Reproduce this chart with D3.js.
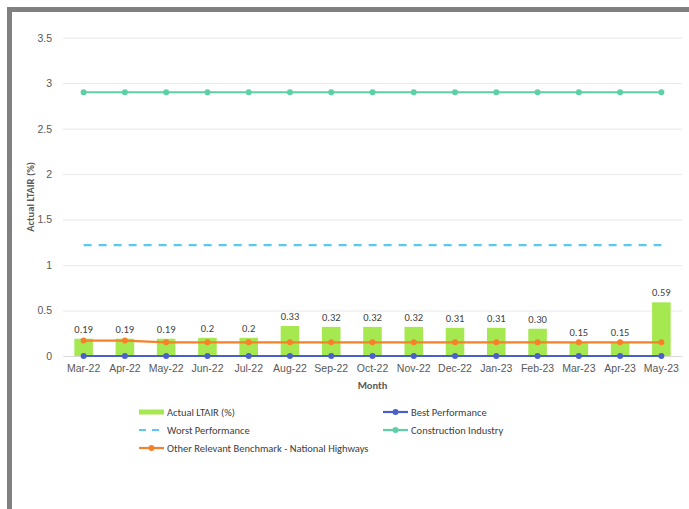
<!DOCTYPE html>
<html>
<head>
<meta charset="utf-8">
<script src="https://cdn.jsdelivr.net/npm/d3@7"></script>
<style>
  body { margin: 0; background: #fff; }
  svg { display: block; font-family: Carlito, "Liberation Sans", Arial, sans-serif; }
</style>
</head>
<body>
<div id="chart"></div>
<script>
// chart data
const months = ['Mar-22', 'Apr-22', 'May-22', 'Jun-22', 'Jul-22', 'Aug-22', 'Sep-22', 'Oct-22',
  'Nov-22', 'Dec-22', 'Jan-23', 'Feb-23', 'Mar-23', 'Apr-23', 'May-23'];
const actual = [0.19, 0.19, 0.19, 0.2, 0.2, 0.33, 0.32, 0.32, 0.32, 0.31, 0.31, 0.30, 0.15, 0.15, 0.59];
const actualLabels = ['0.19', '0.19', '0.19', '0.2', '0.2', '0.33', '0.32', '0.32', '0.32', '0.31',
  '0.31', '0.30', '0.15', '0.15', '0.59'];
const best = [0, 0, 0, 0, 0, 0, 0, 0, 0, 0, 0, 0, 0, 0, 0];
const worst = [1.22, 1.22, 1.22, 1.22, 1.22, 1.22, 1.22, 1.22, 1.22, 1.22, 1.22, 1.22, 1.22, 1.22, 1.22];
const construction = [2.9, 2.9, 2.9, 2.9, 2.9, 2.9, 2.9, 2.9, 2.9, 2.9, 2.9, 2.9, 2.9, 2.9, 2.9];
const nationalHighways = [0.17, 0.17, 0.15, 0.15, 0.15, 0.15, 0.15, 0.15, 0.15, 0.15, 0.15, 0.15, 0.15, 0.15, 0.15];
const yTicks = [0, 0.5, 1, 1.5, 2, 2.5, 3, 3.5];

const width = 689;
const height = 509;
const fontSize = '10.5px';

const svg = d3.select('#chart')
  .append('svg')
  .attr('width', width)
  .attr('height', height);

// grey frame on the left and top
svg.append('rect').attr('x', 7).attr('y', 7).attr('width', 5).attr('height', height - 7).attr('fill', '#808080');
svg.append('rect').attr('x', 7).attr('y', 7).attr('width', width - 7).attr('height', 5).attr('fill', '#808080');

const usableArea = { left: 63, right: 682, top: 37.7, bottom: 356 };

const xScale = d3.scaleBand()
  .domain(months)
  .range([usableArea.left, usableArea.right]);

const yScale = d3.scaleLinear()
  .domain([0, 3.5])
  .range([usableArea.bottom, usableArea.top]);

// gridlines
const gridlines = svg.append('g')
  .attr('transform', `translate(${usableArea.left}, 0)`)
  .call(d3.axisLeft(yScale).tickValues(yTicks).tickFormat('').tickSize(-(usableArea.right - usableArea.left)));
gridlines.select('.domain').remove();
gridlines.selectAll('line').attr('stroke', '#e8e8e8').attr('stroke-width', 1);

// y axis labels
const yAxis = svg.append('g')
  .attr('transform', `translate(${usableArea.left}, 0)`)
  .call(d3.axisLeft(yScale).tickValues(yTicks).tickSize(0).tickPadding(11).tickFormat(d3.format('')));
yAxis.select('.domain').remove();
yAxis.selectAll('text').attr('fill', '#595959').style('font-size', fontSize).style('font-family', null);

// x axis
const xAxis = svg.append('g')
  .attr('transform', `translate(0, ${usableArea.bottom})`)
  .call(d3.axisBottom(xScale).tickSize(0).tickPadding(9));
xAxis.select('.domain').attr('stroke', '#d9d9d9');
xAxis.selectAll('text').attr('fill', '#595959').style('font-size', fontSize).style('font-family', null);

// axis titles
svg.append('text')
  .attr('x', (usableArea.left + usableArea.right) / 2)
  .attr('y', 389)
  .attr('text-anchor', 'middle')
  .attr('fill', '#595959')
  .style('font-size', fontSize)
  .style('font-weight', 'bold')
  .text('Month');

svg.append('text')
  .attr('transform', `translate(34, ${(usableArea.top + usableArea.bottom) / 2}) rotate(-90)`)
  .attr('text-anchor', 'middle')
  .attr('fill', '#595959')
  .style('font-size', fontSize)
  .style('font-weight', 'bold')
  .text('Actual LTAIR (%)');

// bars
const barW = xScale.bandwidth() * 0.45;
const cx = (m) => xScale(m) + xScale.bandwidth() / 2;

svg.append('g')
  .selectAll('rect')
  .data(actual)
  .join('rect')
  .attr('x', (d, i) => cx(months[i]) - barW / 2)
  .attr('y', (d) => yScale(d))
  .attr('width', barW)
  .attr('height', (d) => yScale(0) - yScale(d))
  .attr('fill', '#a5e84f');

svg.append('g')
  .selectAll('text')
  .data(actual)
  .join('text')
  .attr('x', (d, i) => cx(months[i]))
  .attr('y', (d) => yScale(d) - 6)
  .attr('text-anchor', 'middle')
  .attr('fill', '#404040')
  .style('font-size', fontSize)
  .text((d, i) => actualLabels[i]);

// lines
const line = d3.line()
  .x((d, i) => cx(months[i]))
  .y((d) => yScale(d));

function drawSeries(values, color, withDots, dash) {
  const g = svg.append('g');
  g.append('path')
    .datum(values)
    .attr('d', line)
    .attr('fill', 'none')
    .attr('stroke', color)
    .attr('stroke-width', 2.2)
    .attr('stroke-dasharray', dash || null);
  if (withDots) {
    g.selectAll('circle')
      .data(values)
      .join('circle')
      .attr('cx', (d, i) => cx(months[i]))
      .attr('cy', (d) => yScale(d))
      .attr('r', 3)
      .attr('fill', color);
  }
}

drawSeries(worst, '#5bc8f2', false, '8,7');
drawSeries(construction, '#5dd0a6', true);
drawSeries(best, '#4a60c8', true);
drawSeries(nationalHighways, '#f5822a', true);

// legend
const legend = svg.append('g').style('font-size', fontSize).attr('fill', '#404040');
const items = [
  { label: 'Actual LTAIR (%)', type: 'bar', color: '#a5e84f', x: 139, y: 412 },
  { label: 'Best Performance', type: 'dot', color: '#4a60c8', x: 383, y: 412 },
  { label: 'Worst Performance', type: 'dash', color: '#5bc8f2', x: 139, y: 430 },
  { label: 'Construction Industry', type: 'dot', color: '#5dd0a6', x: 383, y: 430 },
  { label: 'Other Relevant Benchmark - National Highways', type: 'dot', color: '#f5822a', x: 139, y: 448 }
];
items.forEach((it) => {
  const g = legend.append('g').attr('transform', `translate(${it.x}, ${it.y})`);
  if (it.type === 'bar') {
    g.append('rect').attr('x', 0).attr('y', -2.5).attr('width', 25).attr('height', 5).attr('fill', it.color);
  } else {
    g.append('line').attr('x1', 0).attr('x2', 25).attr('y1', 0).attr('y2', 0)
      .attr('stroke', it.color).attr('stroke-width', 2.2)
      .attr('stroke-dasharray', it.type === 'dash' ? '7,6' : null);
    if (it.type === 'dot') {
      g.append('circle').attr('cx', 12.5).attr('cy', 0).attr('r', 3).attr('fill', it.color);
    }
  }
  g.append('text').attr('x', 28).attr('y', 3.5).attr('fill', '#404040').text(it.label);
});
</script>
</body>
</html>
